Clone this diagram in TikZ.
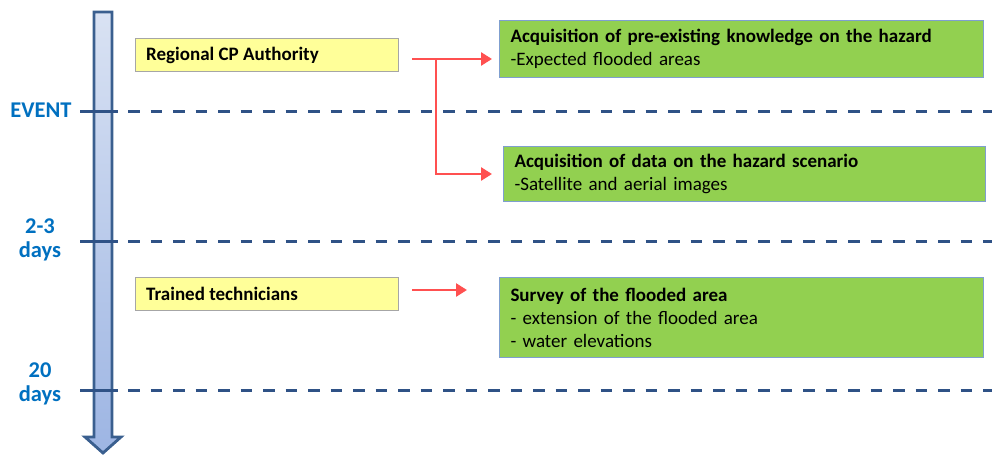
\documentclass[tikz,border=0pt]{standalone}
\usepackage{fontspec}
\setmainfont{Carlito}
\usetikzlibrary{arrows.meta}
\definecolor{lblue}{HTML}{0070C0}
\definecolor{dblue}{HTML}{2F5286}
\definecolor{aborder}{HTML}{3A5F8F}
\definecolor{ytop}{HTML}{D9E2F3}
\definecolor{ybot}{HTML}{9DB5E3}
\definecolor{yfill}{HTML}{FFFF99}
\definecolor{gfill}{HTML}{92D050}
\definecolor{gborder}{HTML}{7F9FCF}
\definecolor{redarrow}{HTML}{FF5050}
\tikzset{
  ybox/.style={draw=gray!70, line width=1pt, fill=yfill, minimum width=263pt, minimum height=33pt, anchor=north west, inner sep=0pt},
  ytext/.style={anchor=west, font=\fontsize{19}{22}\selectfont\bfseries, inner sep=0pt},
  gbox/.style={draw=gborder, line width=1pt, fill=gfill, anchor=north west, inner xsep=11pt, inner ysep=0pt, align=left, font=\fontsize{19}{23}\selectfont},
  tlabel/.style={text=lblue, font=\fontsize{22.5}{24}\selectfont\bfseries, align=center},
  dline/.style={draw=dblue, line width=3pt, dash pattern=on 11.5pt off 11pt},
  sline/.style={draw=dblue, line width=3pt},
  rarrow/.style={draw=redarrow, line width=2.6pt, -{Triangle[length=11pt,width=13pt]}},
}
\begin{document}
\begin{tikzpicture}[x=1pt,y=-1pt]
\useasboundingbox (0,0) rectangle (992,455);
% timeline arrow
\shade[top color=ytop, bottom color=ybot, draw=aborder, line width=2.8pt, line join=miter]
  (94,12) -- (112,12) -- (112,437) -- (121,437) -- (103,453) -- (85,437) -- (94,437) -- cycle;
% horizontal lines
\foreach \y in {111,241,390}{
  \draw[sline] (80,\y) -- (118,\y);
  \draw[dline] (128,\y) -- (992,\y);
}
% time labels
\node[tlabel] (event) at (41,110) {EVENT};
\node[tlabel] (d23) at (40,240) {2-3\\days};
\node[tlabel] (d20) at (40,384) {20\\days};
% yellow boxes
\node[ybox] (rcp) at (135,38) {};
\node[ytext] (rcpt) at (146,55) {Regional CP Authority};
\node[ybox] (tt) at (135,277) {};
\node[ytext] (ttt) at (146,294) {Trained technicians};
% green boxes
\node[gbox, minimum width=484pt, minimum height=57pt, text width=462pt] (g1) at (499,20)
  {\textbf{Acquisition of pre-existing knowledge on the hazard}\\-Expected flooded areas};
\node[gbox, minimum width=482pt, minimum height=55pt, text width=460pt] (g2) at (503,146)
  {\textbf{Acquisition of data on the hazard scenario}\\-Satellite and aerial images};
\node[gbox, minimum width=484pt, minimum height=80pt, text width=462pt] (g3) at (499,277)
  {\textbf{Survey of the flooded area}\\- extension of the flooded area\\- water elevations};
% red arrows
\coordinate (a1s) at (412,59);
\coordinate (a1e) at (492,59);
\coordinate (br) at (436,59);
\coordinate (a2e) at (492,174);
\coordinate (a3s) at (412,290);
\coordinate (a3e) at (467,290);
\draw[rarrow] (a1s) -- (a1e);
\draw[rarrow] (br) |- (a2e);
\draw[rarrow] (a3s) -- (a3e);
\end{tikzpicture}
\end{document}
